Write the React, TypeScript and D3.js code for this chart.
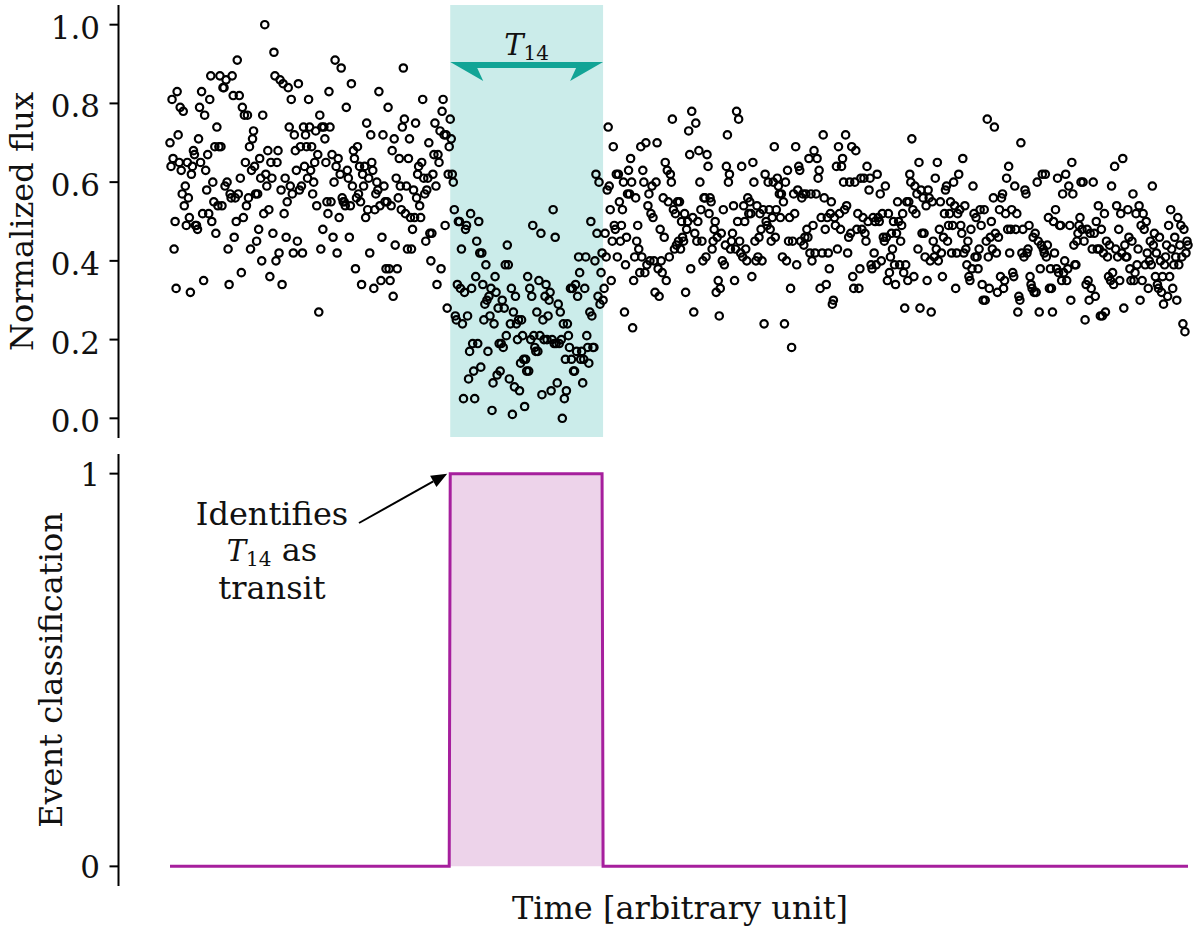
import React from 'react';
import * as d3 from 'd3';

// Normalized flux, in hundredths (time index 0..999)
const fluxPreTransit: number[] = [
  70,64,81,66,43,50,33,83,72,65,79,63,57,78,54,59,49,65,56,51,32,62,64,68,67,
  49,49,48,71,79,65,83,52,35,77,63,58,67,52,81,87,50,60,55,69,47,74,54,69,87,
  69,54,84,84,59,86,60,43,34,57,56,87,82,46,56,50,91,57,82,61,37,79,51,77,65,
  54,77,56,69,43,63,71,73,64,57,45,57,48,66,61,40,77,52,100,62,59,68,53,36,65,
  61,47,93,87,40,65,68,42,86,58,34,85,52,61,46,55,84,74,59,81,57,42,72,68,63,
  45,85,58,69,59,42,74,64,72,69,61,81,74,63,69,57,60,65,73,54,67,27,77,43,74,
  48,74,71,65,55,52,83,74,55,67,46,60,91,64,42,66,51,62,89,56,55,55,54,79,63,
  61,46,54,85,59,68,66,38,56,69,57,64,55,34,62,59,64,51,75,53,61,42,72,65,63,
  33,53,57,60,58,83,54,35,46,72,59,55,38,55,79,38,35,54,68,31,71,44,61,38,56,
  66,59,53,74,89,76,52,59,43,66,71,51,43,48,58,51,75,56,62,64,54,51,65,81,61,
  57,45,58,61,70,47,40,47,62,67,75,59,34,67,65,73,38,78,81,72,49,72,28,62,69,
];
const fluxTransit: number[] = [
  76,71,62,60,53,26,25,34,50,50,33,43,24,5,32,48,49,26,10,17,52,33,19,12,5,
  36,45,19,50,42,13,42,34,25,29,39,30,17,31,26,33,2,9,24,36,32,11,28,19,12,
  19,30,18,28,39,21,44,39,10,24,33,1,27,8,31,24,20,25,7,14,25,21,15,3,15,
  12,36,12,33,20,31,49,21,18,17,27,17,35,21,47,6,25,20,31,34,20,26,30,32,7,
  20,53,19,46,19,9,29,19,27,20,0,24,5,15,7,24,21,18,33,15,33,12,12,34,17,
  31,41,37,15,17,9,15,33,41,21,18,14,27,50,26,18,18,40,62,47,31,60,29,37,42,
];
const fluxPostTransit: number[] = [
  30,33,47,41,58,74,59,53,35,45,69,49,48,62,41,62,55,45,49,53,60,27,39,46,57,
  63,57,66,60,23,35,41,56,45,49,43,37,69,41,63,60,37,70,39,54,57,40,52,59,51,
  40,32,60,70,38,31,48,40,37,56,46,65,35,63,55,41,62,60,76,53,43,52,44,55,45,
  55,43,50,46,45,52,32,48,50,73,67,38,78,51,27,47,75,45,50,68,60,53,45,40,56,
  56,41,67,64,52,56,55,43,45,48,50,32,46,35,26,33,47,40,53,39,44,64,72,60,62,
  43,45,47,54,35,43,78,50,76,45,42,64,41,54,50,43,40,56,52,55,52,36,65,60,45,
  40,54,41,46,52,48,40,53,24,62,50,49,60,53,48,45,51,60,69,46,53,61,59,57,51,
  57,41,55,24,60,40,63,45,51,33,18,45,57,52,69,39,58,64,63,45,56,57,44,46,57,
  48,46,66,42,57,40,49,68,42,57,66,61,63,33,51,42,72,56,48,34,51,42,38,52,55,
  29,30,51,49,64,43,69,52,48,64,66,60,53,72,54,42,46,60,47,69,36,33,60,68,48,
  52,33,38,61,48,51,61,47,45,64,50,58,61,39,38,51,42,50,39,62,51,50,57,40,52,
  46,45,59,46,35,52,37,41,47,43,50,39,34,47,55,50,39,45,49,52,37,28,39,55,35,
  55,62,60,71,53,36,59,52,57,43,65,28,58,47,56,47,41,54,35,58,56,40,27,55,45,
  41,61,43,65,40,48,55,42,36,46,52,58,59,45,49,52,55,42,49,60,54,33,42,52,62,
  53,49,47,66,42,54,43,39,45,36,35,48,38,59,52,41,51,41,38,43,53,49,34,30,53,
  30,45,76,41,33,46,50,43,56,74,47,42,32,46,53,36,56,57,33,35,52,61,48,64,42,
  48,53,37,36,59,48,52,27,31,30,70,42,48,41,58,57,42,43,49,36,34,33,46,32,47,
  32,60,45,27,38,44,62,43,42,62,41,44,51,33,38,33,27,50,42,53,38,61,37,49,49,
  35,57,37,40,62,35,38,59,49,30,65,57,44,39,39,45,47,49,51,60,48,60,45,25,34,
  48,35,30,47,33,43,60,47,31,50,43,54,43,26,48,26,42,52,27,45,41,36,44,35,59,
  37,34,64,43,54,41,48,35,52,42,66,28,44,41,41,53,46,38,35,45,57,35,37,52,39,
  43,54,30,49,35,52,48,39,50,42,33,40,45,39,59,44,47,36,42,34,33,46,40,32,36,
  29,39,41,44,31,49,36,53,43,33,39,46,41,30,51,39,44,49,41,24,48,22,42,45,44,
];

// Event classification (step function): change points
const classTimes: number[] = [0, 274, 275, 424, 425, 999];
const classValues: number[] = [0, 0, 1, 1, 0, 0];

// Transit window T14
const transitStart = 275;
const transitEnd = 425;
const arrowLevel = 0.9;

const topTicks: number[] = [0.0, 0.2, 0.4, 0.6, 0.8, 1.0];
const bottomTicks: number[] = [0, 1];

const FONT = '"DejaVu Serif", serif';
const TEAL = '#12a496';
const CYAN_BG = '#cbecea';
const MAGENTA = '#a61f9d';
const PINK = '#edd3ea';

export default function App() {
  const flux = [...fluxPreTransit, ...fluxTransit, ...fluxPostTransit].map((v) => v / 100);
  const time = flux.map((_, i) => i);

  const x = d3.scaleLinear().domain([0, 999]).range([170, 1188]);
  const yTop = d3.scaleLinear().domain([-0.05, 1.05]).range([438, 5]);
  const yBot = d3.scaleLinear().domain([-0.05, 1.05]).range([886, 454]);

  const stepPts: [number, number][] = classTimes.map((t, i) => [t, classValues[i]]);
  const linePath = d3.line<[number, number]>().x((d) => x(d[0])).y((d) => yBot(d[1]))(stepPts) || '';
  const areaPath =
    d3.area<[number, number]>().x((d) => x(d[0])).y0(yBot(0)).y1((d) => yBot(d[1]))(stepPts) || '';

  const spineX = 118.5;
  const fmt = d3.format('.1f');

  // T14 arrow polygon
  const xl = x(transitStart);
  const xr = x(transitEnd);
  const top = yTop(arrowLevel) - 2;
  const lineBottom = top + 6;
  const barb = top + 19;
  const headLen = 33;
  const notch = 27;
  const arrowPts = [
    [xl, top],
    [xr, top],
    [xr - headLen, barb],
    [xr - notch, lineBottom],
    [xl + notch, lineBottom],
    [xl + headLen, barb],
  ]
    .map((p) => p.join(','))
    .join(' ');

  // annotation arrow (text -> step corner)
  const annTipX = x(transitStart) - 3;
  const annTipY = yBot(1);
  const annStartX = 359;
  const annStartY = 523;
  const ang = Math.atan2(annTipY - annStartY, annTipX - annStartX);
  const hl = 16;
  const hw = 6.5;
  const bx = annTipX - hl * Math.cos(ang);
  const by = annTipY - hl * Math.sin(ang);
  const headPts = [
    [annTipX, annTipY],
    [bx + hw * Math.sin(ang), by - hw * Math.cos(ang)],
    [bx - hw * Math.sin(ang), by + hw * Math.cos(ang)],
  ]
    .map((p) => p.join(','))
    .join(' ');

  return (
    <svg
      width={1200}
      height={933}
      style={{ position: 'absolute', left: 0, top: 0, background: '#fff' }}
      fontFamily={FONT}
    >
      {/* ===== Top panel ===== */}
      <rect x={xl} y={yTop(1.05)} width={xr - xl} height={yTop(-0.05) - yTop(1.05) - 1} fill={CYAN_BG} />
      <polygon points={arrowPts} fill={TEAL} />
      <text x={(xl + xr) / 2} y={yTop(arrowLevel) - 9} textAnchor="middle" fontSize={29} fill="#111">
        <tspan fontStyle="italic">T</tspan>
        <tspan fontSize={20} dy={5}>14</tspan>
      </text>

      <g>
        {flux.map((f, i) => (
          <circle key={i} cx={x(time[i])} cy={yTop(f)} r={3.7} fill="none" stroke="#000" strokeWidth={2.2} />
        ))}
      </g>

      <line x1={spineX} x2={spineX} y1={yTop(1.05)} y2={yTop(-0.05)} stroke="#000" strokeWidth={2} />
      {topTicks.map((t) => (
        <g key={t}>
          <line x1={spineX - 9} x2={spineX} y1={yTop(t)} y2={yTop(t)} stroke="#000" strokeWidth={2} />
          <text x={100} y={yTop(t) + 14} textAnchor="end" fontSize={31} fill="#111">
            {fmt(t)}
          </text>
        </g>
      ))}
      <text
        transform={`translate(33,${(yTop(1.05) + yTop(-0.05)) / 2}) rotate(-90)`}
        textAnchor="middle"
        fontSize={32}
        fill="#111"
      >
        Normalized flux
      </text>

      {/* ===== Bottom panel ===== */}
      <path d={areaPath} fill={PINK} />
      <path d={linePath} fill="none" stroke={MAGENTA} strokeWidth={3} strokeLinejoin="miter" />

      <line x1={spineX} x2={spineX} y1={yBot(1.05)} y2={yBot(-0.05)} stroke="#000" strokeWidth={2} />
      {bottomTicks.map((t) => (
        <g key={t}>
          <line x1={spineX - 9} x2={spineX} y1={yBot(t)} y2={yBot(t)} stroke="#000" strokeWidth={2} />
          <text x={100} y={yBot(t) + 12} textAnchor="end" fontSize={31} fill="#111">
            {t}
          </text>
        </g>
      ))}
      <text
        transform={`translate(62,${(yBot(1.05) + yBot(-0.05)) / 2}) rotate(-90)`}
        textAnchor="middle"
        fontSize={32}
        fill="#111"
      >
        Event classification
      </text>

      {/* annotation */}
      <line x1={annStartX} y1={annStartY} x2={bx} y2={by} stroke="#000" strokeWidth={2} />
      <polygon points={headPts} fill="#000" />
      <text x={272} y={525} textAnchor="middle" fontSize={32} fill="#111">
        Identifies
      </text>
      <text x={272} y={561} textAnchor="middle" fontSize={32} fill="#111">
        <tspan fontStyle="italic" fontSize={29}>T</tspan>
        <tspan fontSize={20} dy={5}>14</tspan>
        <tspan dy={-5}> as</tspan>
      </text>
      <text x={272} y={599} textAnchor="middle" fontSize={32} fill="#111">
        transit
      </text>

      {/* x label */}
      <text x={680} y={919} textAnchor="middle" fontSize={32} fill="#111">
        Time [arbitrary unit]
      </text>
    </svg>
  );
}
